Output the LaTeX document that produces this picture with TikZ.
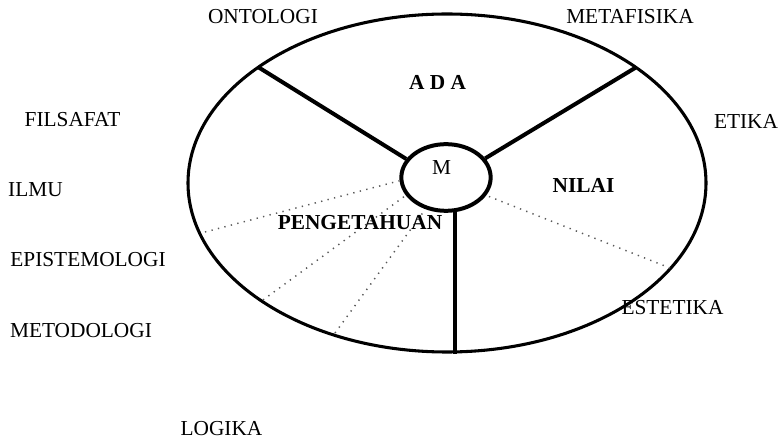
\documentclass[tikz,border=0pt]{standalone}
\usepackage{fontspec}
\setmainfont{Liberation Serif}
\usetikzlibrary{shapes.geometric}

\begin{document}
\begin{tikzpicture}[x=0.75pt,y=-0.75pt,
  txt/.style={font=\fontsize{16}{18}\selectfont,inner sep=0pt},
  tebal/.style={font=\fontsize{16}{18}\selectfont\bfseries,inner sep=0pt},
  spoke/.style={line width=3pt},
  batas/.style={dash pattern=on 1pt off 4pt,line width=1.1pt,black!65}
]
  \useasboundingbox (0,0) rectangle (782,441);
  \node[ellipse,draw,line width=2.3pt,inner sep=0pt,minimum width=388.5pt,minimum height=253.5pt] (world) at (447,183) {};
  \node[ellipse,draw,line width=3pt,inner sep=0pt,minimum width=67pt,minimum height=50pt] (m) at (446,177.5) {};
  \node[txt] (mlabel) at (441.5,167.5) {M};

  % titik pada tepi elips
  \coordinate (ont) at (258,67);
  \coordinate (met) at (635,68);
  \coordinate (d1) at (205,232);
  \coordinate (d2) at (263,300);
  \coordinate (d3) at (335,333);
  \coordinate (d4) at (670,268);

  \draw[spoke](ont)--(m.155);
  \draw[spoke](met)--(m.26);
  \draw[spoke](m.-75)--(m.-75 |- world.south);
  \draw[batas](d1)--(m.184);
  \draw[batas](d2)--(m.204);
  \draw[batas](d3)--(m.237);
  \draw[batas](d4)--(m.-24);

  \node[txt] (ontologi) at (263,16.5)  {ONTOLOGI};
  \node[txt] (metafisika) at (630,16.5) {METAFISIKA};
  \node[txt] (etika) at (746,121.5) {ETIKA};
  \node[txt] (filsafat) at (72.5,120) {FILSAFAT};
  \node[txt] (ilmu) at (35.5,189.5) {ILMU};
  \node[txt] (episte) at (88,259.5) {EPISTEMOLOGI};
  \node[txt] (metodo) at (81,331) {METODOLOGI};
  \node[txt] (logika) at (221.5,428.5) {LOGIKA};
  \node[txt] (estetika) at (672.5,308) {ESTETIKA};
  \node[tebal] (ada) at (437.5,82.5) {A D A};
  \node[tebal] (nilai) at (583.5,185) {NILAI};
  \node[tebal] (tahu) at (360,223) {PENGETAHUAN};
\end{tikzpicture}
\end{document}
